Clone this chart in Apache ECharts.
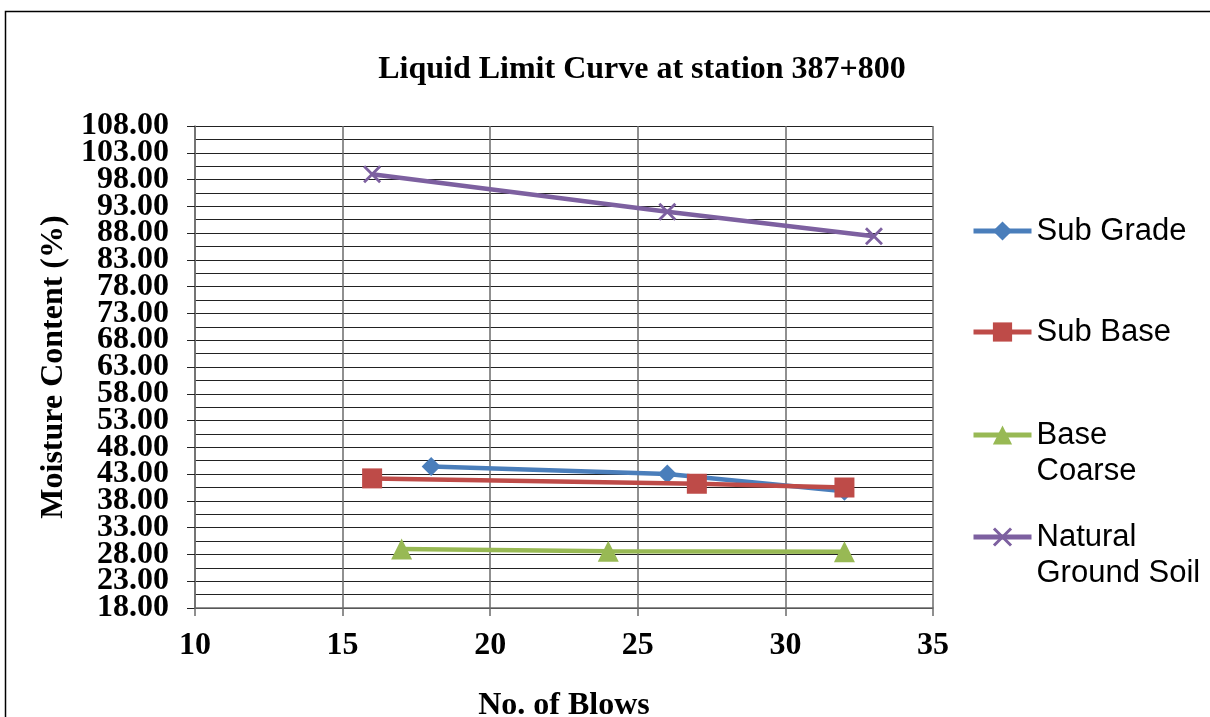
<!DOCTYPE html>
<html>
<head>
<meta charset="utf-8">
<script src="https://cdn.jsdelivr.net/npm/echarts@6/dist/echarts.min.js"></script>
<style>
html,body{margin:0;padding:0;background:#fff;}
#chart{width:1210px;height:717px;}
</style>
</head>
<body>
<div id="chart"></div>
<script>
// ---- data ----
const seriesNames = ['Sub Grade', 'Sub Base', 'Base Coarse', 'Natural Ground Soil'];
const subGradeBlows = [18, 26, 32];
const subGradeMoisture = [44.4, 43.0, 39.8];
const subBaseBlows = [16, 27, 32];
const subBaseMoisture = [42.2, 41.2, 40.5];
const baseCoarseBlows = [17, 24, 32];
const baseCoarseMoisture = [29.0, 28.6, 28.5];
const naturalBlows = [16, 26, 33];
const naturalMoisture = [99.0, 92.0, 87.4];
const yTicks = { min: 18, max: 108, step: 5 };
const xTicks = { min: 10, max: 35, step: 5 };

const pairs = (xs, ys) => xs.map((x, i) => [x, ys[i]]);
const serif = 'Liberation Serif';
const sans = 'Liberation Sans';
const colors = ['#4A7EBB', '#BE4B48', '#98B954', '#7D60A0'];
const xPath = 'path://M0,1.1 L1.1,0 L10,8.9 L8.9,10 Z M8.9,0 L10,1.1 L1.1,10 L0,8.9 Z';
const symbols = ['diamond', 'rect', 'triangle', xPath];
const symbolSizes = [19, 20, 21, 18];
const dataSets = [
  pairs(subGradeBlows, subGradeMoisture),
  pairs(subBaseBlows, subBaseMoisture),
  pairs(baseCoarseBlows, baseCoarseMoisture),
  pairs(naturalBlows, naturalMoisture)
];
const legendLabels = ['Sub Grade', 'Sub Base', ' \nBase\nCoarse', ' \nNatural\nGround Soil'];
const legendTops = [213, 314, 381, 483];

const chart = echarts.init(document.getElementById('chart'), null, { renderer: 'canvas' });

const legends = seriesNames.map((n, i) => ({
  data: [n],
  orient: 'vertical',
  left: 971,
  top: legendTops[i],
  itemWidth: 58,
  itemHeight: 24,
  itemGap: 0,
  padding: 0,
  selectedMode: false,
  formatter: () => legendLabels[i],
  lineStyle: { width: 5 },
  textStyle: {
    fontFamily: sans,
    fontSize: 31,
    color: '#000',
    lineHeight: 36
  }
}));

const yLabelStyle = { fontFamily: serif, fontWeight: 'bold', fontSize: 32, color: '#000' };
const yTickStyle = { show: true, inside: false, length: 8, lineStyle: { color: '#222', width: 1 } };

const option = {
  animation: false,
  backgroundColor: '#fff',
  title: {
    text: 'Liquid Limit Curve at station 387+800',
    left: 637,
    textAlign: 'center',
    top: 49,
    textStyle: { fontFamily: serif, fontWeight: 'bold', fontSize: 32, color: '#000' }
  },
  legend: legends,
  grid: { left: 195, right: 277, top: 126, bottom: 109, containLabel: false, outerBoundsMode: 'none' },
  xAxis: {
    type: 'value',
    min: xTicks.min, max: xTicks.max, interval: xTicks.step,
    name: 'No. of Blows',
    nameLocation: 'middle',
    nameGap: 82,
    nameTextStyle: { fontFamily: serif, fontWeight: 'bold', fontSize: 32, color: '#000' },
    axisLine: { show: true, lineStyle: { color: '#6b6b6b', width: 1.5 } },
    axisTick: { show: true, inside: false, length: 8, lineStyle: { color: '#6b6b6b', width: 1.5 } },
    axisLabel: { margin: 22, fontFamily: serif, fontWeight: 'bold', fontSize: 32, color: '#000' },
    splitLine: { show: true, lineStyle: { color: '#6b6b6b', width: 1.5 } }
  },
  yAxis: [{
    type: 'value',
    position: 'left',
    min: yTicks.min, max: yTicks.max, interval: yTicks.step,
    name: 'Moisture Content (%)',
    nameLocation: 'middle',
    nameGap: 120,
    nameRotate: 90,
    nameTextStyle: { fontFamily: serif, fontWeight: 'bold', fontSize: 32, color: '#000' },
    axisLine: { show: true, lineStyle: { color: '#6b6b6b', width: 1.5 } },
    axisTick: yTickStyle,
    axisLabel: Object.assign({
      margin: 26, showMinLabel: false, showMaxLabel: false,
      formatter: v => v.toFixed(2)
    }, yLabelStyle),
    splitLine: { show: true, lineStyle: { color: '#222', width: 1 } },
    minorTick: { show: false, splitNumber: 2 },
    minorSplitLine: { show: true, lineStyle: { color: '#222', width: 1 } }
  }, {
    // same scale, only carries the end labels (18.00 and 108.00)
    type: 'value',
    position: 'left',
    offset: 0,
    min: yTicks.min, max: yTicks.max, interval: yTicks.step,
    axisLine: { show: false },
    axisTick: yTickStyle,
    axisLabel: Object.assign({
      margin: 26, showMinLabel: true, showMaxLabel: true,
      formatter: v => (v === yTicks.min || v === yTicks.max) ? v.toFixed(2) : ''
    }, yLabelStyle),
    splitLine: { show: false }
  }],
  series: seriesNames.map((n, i) => ({
    name: n,
    type: 'line',
    yAxisIndex: 0,
    data: dataSets[i],
    symbol: symbols[i],
    symbolSize: symbolSizes[i],
    showSymbol: true,
    lineStyle: { color: colors[i], width: 4.5 },
    itemStyle: { color: colors[i] },
    z: [3, 4, 3, 3][i]
  })),
  graphic: [{
    type: 'rect',
    shape: { x: 5.5, y: 11.5, width: 1400, height: 900 },
    style: { fill: null, stroke: '#000', lineWidth: 1.5 },
    silent: true,
    z: -1
  }]
};
chart.setOption(option);
</script>
</body>
</html>
